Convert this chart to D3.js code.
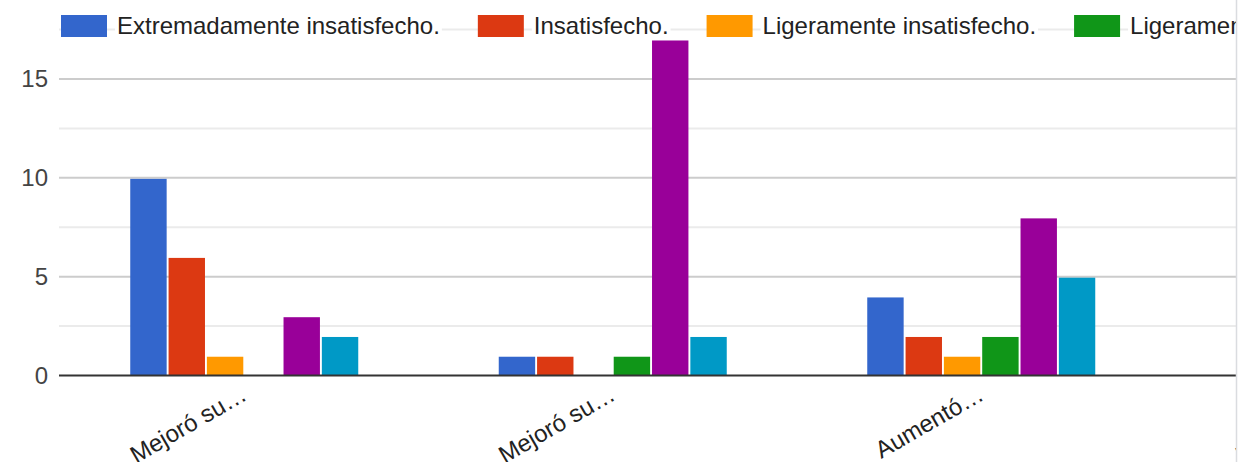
<!DOCTYPE html>
<html lang="es">
<head>
  <meta charset="utf-8">
  <title>Satisfacción</title>
  <script src="https://d3js.org/d3.v7.min.js"></script>
  <style>
    body { margin: 0; background: #fff; }
    text { font-family: Arial, "Liberation Sans", sans-serif; }
  </style>
</head>
<body>
<svg width="1238" height="462"></svg>
<script>
    // data
    var categories = ["Mejoró su…", "Mejoró su…", "Aumentó…", "Mejoró su…"];
    var seriesNames = ["Extremadamente insatisfecho.", "Insatisfecho.", "Ligeramente insatisfecho.",
                       "Ligeramente satisfecho.", "Satisfecho.", "Extremadamente satisfecho."];
    var colors = ["#3366cc", "#dc3912", "#ff9900", "#109618", "#990099", "#0099c6"];
    var extInsat  = [10, 1, 4, 0];
    var insat     = [6, 1, 2, 0];
    var ligInsat  = [1, 0, 1, 0];
    var ligSat    = [0, 1, 2, 0];
    var sat       = [3, 17, 8, 0];
    var extSat    = [2, 2, 5, 0];
    var values = [extInsat, insat, ligInsat, ligSat, sat, extSat];
    var majorTicks = [0, 5, 10, 15];
    var minorTicks = [2.5, 7.5, 12.5, 17.5];

    var svg = d3.select("svg"),
        left = 59,
        right = 1236,
        bandStep = 368.5,
        groupWidth = 228,
        fontSize = "24px";

    svg.append("defs").append("clipPath").attr("id", "clip")
       .append("rect").attr("x", 0).attr("y", 0).attr("width", right).attr("height", 462);

    var chart = svg.append("g").attr("clip-path", "url(#clip)");

    var x0 = d3.scaleBand().domain(d3.range(categories.length))
               .range([left + 1, left + 1 + bandStep * categories.length]);
    var x1 = d3.scaleBand().domain(d3.range(seriesNames.length))
               .range([0, groupWidth]).paddingInner(0.05);
    var y = d3.scaleLinear().domain([0, 17.5]).range([375.5, 29.6]);

    // gridlines
    chart.selectAll(".minor").data(minorTicks).enter().append("line")
         .attr("x1", left).attr("x2", right)
         .attr("y1", function(d) { return y(d); })
         .attr("y2", function(d) { return y(d); })
         .attr("stroke", "#ebebeb").attr("stroke-width", 2);
    chart.selectAll(".major").data(majorTicks.slice(1)).enter().append("line")
         .attr("x1", left).attr("x2", right)
         .attr("y1", function(d) { return y(d); })
         .attr("y2", function(d) { return y(d); })
         .attr("stroke", "#cccccc").attr("stroke-width", 2);

    // y labels
    svg.selectAll(".ylab").data(majorTicks).enter().append("text")
       .attr("x", 48).attr("y", function(d) { return y(d) + 8; })
       .attr("text-anchor", "end").attr("font-size", fontSize).attr("fill", "#444")
       .text(function(d) { return d; });

    // bars (top sits just under the gridline, like the original)
    values.forEach(function(vals, s) {
        chart.selectAll(".bar" + s).data(vals).enter().append("rect")
             .attr("x", function(d, i) { return x0(i) + (x0.bandwidth() - groupWidth) / 2 + x1(s); })
             .attr("y", function(d) { return y(d) + 1; })
             .attr("width", x1.bandwidth())
             .attr("height", function(d) { return Math.max(0, y(0) - y(d) - 1); })
             .attr("fill", colors[s]);
    });

    // baseline
    chart.append("line").attr("x1", left).attr("x2", right)
         .attr("y1", y(0)).attr("y2", y(0))
         .attr("stroke", "#333").attr("stroke-width", 2);

    // category labels, slanted
    chart.selectAll(".xlab").data(categories).enter().append("text")
         .attr("transform", function(d, i) {
             return "translate(" + (x0(i) + x0.bandwidth() / 2 + 4) + ",399) rotate(-30)";
         })
         .attr("text-anchor", "end").attr("font-size", fontSize).attr("fill", "#222")
         .text(function(d) { return d; });

    // legend
    var lx = 61;
    seriesNames.forEach(function(name, s) {
        var item = chart.append("g");
        var t = item.append("text").attr("x", lx + 56).attr("y", 34)
                    .attr("font-size", fontSize).attr("fill", "#222").text(name);
        var w = t.node().getComputedTextLength();
        item.insert("rect", "text").attr("x", lx + 54).attr("y", 12).attr("width", w + 4).attr("height", 28).attr("fill", "#fff");
        item.insert("rect", "text").attr("x", lx).attr("y", 15).attr("width", 46).attr("height", 22).attr("fill", colors[s]);
        lx = lx + 56 + w + 38;
    });

    // right border
    svg.append("line").attr("x1", 1236.5).attr("x2", 1236.5).attr("y1", 0).attr("y2", 462)
       .attr("stroke", "#dadce0").attr("stroke-width", 1.5);
</script>
</body>
</html>
